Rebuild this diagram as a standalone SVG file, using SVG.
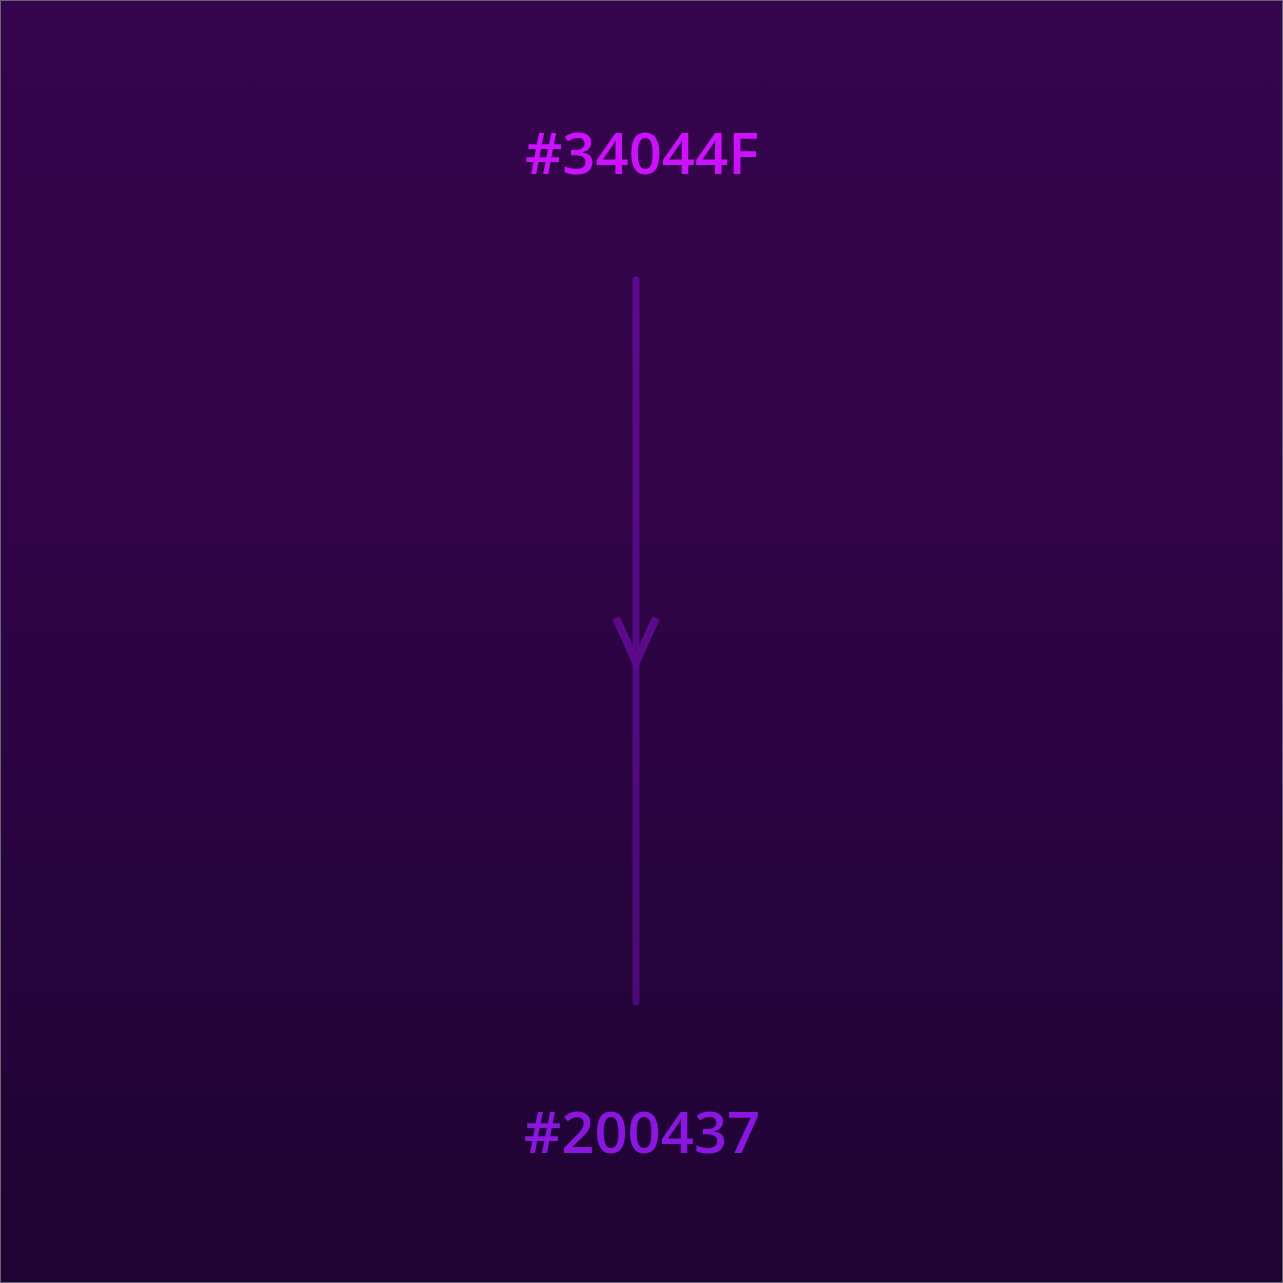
<svg xmlns="http://www.w3.org/2000/svg" width="1283" height="1283" viewBox="0 0 1283 1283">
<defs>
<linearGradient id="bg" x1="0" y1="0" x2="0" y2="1">
<stop offset="0" stop-color="#34044C"/>
<stop offset="0.3" stop-color="#33044A"/>
<stop offset="1" stop-color="#1E0333"/>
</linearGradient>
<linearGradient id="ln" gradientUnits="userSpaceOnUse" x1="0" y1="280" x2="0" y2="1002">
<stop offset="0" stop-color="#5C0A8E"/>
<stop offset="1" stop-color="#4A0A76"/>
</linearGradient>
</defs>
<style>
.lbl{font-family:"Open Sans","Noto Sans",sans-serif;font-size:58px;font-weight:600;text-anchor:middle}
.conn{fill:none;stroke:url(#ln);stroke-width:7;stroke-linecap:round}
</style>
<rect x="0.5" y="0.5" width="1282" height="1282" fill="url(#bg)" stroke="#6E6275" stroke-width="1"/>
<g id="connectors">
<line class="conn" x1="636" y1="280" x2="636" y2="1002"/>
<path d="M616 618 L636 662 L656 618" fill="none" stroke="#5A0A8A" stroke-width="8"/>
</g>
<g id="node-top"><text class="lbl" x="642" y="174" fill="#CC11FF">#34044F</text></g>
<g id="node-bottom"><text class="lbl" x="642" y="1153" fill="#8A17E0">#200437</text></g>
</svg>
